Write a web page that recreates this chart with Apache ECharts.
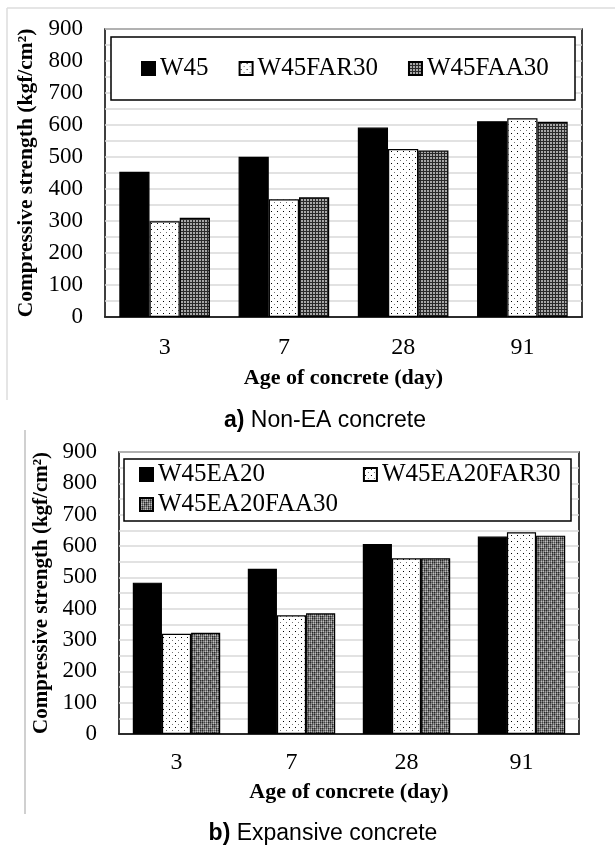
<!DOCTYPE html>
<html><head><meta charset="utf-8">
<script src="https://cdn.jsdelivr.net/npm/echarts@6/dist/echarts.min.js"></script>
<style>html,body{margin:0;padding:0;background:#fff}#c{width:615px;height:846px}</style>
</head><body><div id="c"></div>
<script>
const categories = ['3', '7', '28', '91'];
const topNames = ['W45', 'W45FAR30', 'W45FAA30'];
const W45 = [454, 501, 592, 612];
const W45FAR30 = [299, 368, 525, 621];
const W45FAA30 = [310, 374, 520, 610];
const botNames = ['W45EA20', 'W45EA20FAR30', 'W45EA20FAA30'];
const W45EA20 = [483, 527, 606, 630];
const W45EA20FAR30 = [320, 379, 561, 644];
const W45EA20FAA30 = [323, 385, 561, 633];
const yTicks = [0, 100, 200, 300, 400, 500, 600, 700, 800, 900];

function tile(w, h, draw) {
  const c = document.createElement('canvas'); c.width = w; c.height = h;
  const g = c.getContext('2d'); draw(g, w, h); return c;
}
const dots = tile(6, 6, (g) => {
  g.fillStyle = '#fff'; g.fillRect(0, 0, 6, 6);
  g.fillStyle = '#000'; g.fillRect(1, 1, 1, 1);
  g.fillStyle = '#777'; g.fillRect(4, 4, 1, 1);
});
const checks = tile(3, 3, (g) => {
  g.fillStyle = '#2a2a2a'; g.fillRect(0, 0, 3, 3);
  g.fillStyle = '#a8a8a8'; g.fillRect(1, 1, 2, 2);
});
const plaid = tile(16, 16, (g) => {
  for (let x = 0; x < 16; x++) for (let y = 0; y < 16; y++) {
    let v = 190;
    if (x % 2 === 0) v -= 70;
    if (y % 2 === 0) v -= 50;
    if ((Math.floor(x / 4) + Math.floor(y / 4)) % 2 === 0) v -= 30;
    v = Math.max(20, v);
    g.fillStyle = 'rgb(' + v + ',' + v + ',' + v + ')'; g.fillRect(x, y, 1, 1);
  }
});

const serif = 'Liberation Serif';
const sans = 'Liberation Sans';

function xAxis(gi, gap, nameGap) {
  return {
    type: 'category', gridIndex: gi, data: categories,
    axisLine: {lineStyle: {color: '#000', width: 1.5}}, axisTick: {show: false},
    axisLabel: {color: '#000', fontFamily: serif, fontSize: 24, margin: gap},
    name: 'Age of concrete (day)', nameLocation: 'middle', nameGap: nameGap,
    nameTextStyle: {color: '#000', fontFamily: serif, fontSize: 22, fontWeight: 'bold'}
  };
}
function yAxis(gi, nameGap, fs) {
  return {
    type: 'value', gridIndex: gi, min: 0, max: 900, interval: 50,
    axisLine: {show: false}, axisTick: {show: false},
    axisLabel: {color: '#000', fontFamily: serif, fontSize: 23, margin: 22,
      formatter: v => yTicks.indexOf(v) >= 0 ? String(v) : ''},
    splitLine: {lineStyle: {color: '#d9d9d9', width: 1.5}},
    name: 'Compressive strength (kgf/cm²)', nameLocation: 'middle', nameGap: nameGap,
    nameTextStyle: {color: '#000', fontFamily: serif, fontSize: fs, fontWeight: 'bold'}
  };
}
function bar(name, data, color, gi) {
  return {
    type: 'bar', name: name, data: data, xAxisIndex: gi, yAxisIndex: gi,
    barGap: '0%', barCategoryGap: '24%',
    itemStyle: {color: color, borderColor: '#000', borderWidth: 1.2}
  };
}
const legendText = {color: '#000', fontFamily: serif, fontSize: 25};

const chart = echarts.init(document.getElementById('c'), null, {renderer: 'canvas'});
chart.setOption({
  animation: false,
  backgroundColor: '#fff',
  textStyle: {fontFamily: serif},
  title: [
    {text: '{b|a)} Non-EA concrete', left: 320, top: 404, textAlign: 'center',
      textStyle: {fontFamily: sans, fontSize: 23, fontWeight: 'normal', color: '#000',
        rich: {b: {fontFamily: sans, fontSize: 23, fontWeight: 'bold', color: '#000'}}}},
    {text: '{b|b)} Expansive concrete', left: 318, top: 817, textAlign: 'center',
      textStyle: {fontFamily: sans, fontSize: 23, fontWeight: 'normal', color: '#000',
        rich: {b: {fontFamily: sans, fontSize: 23, fontWeight: 'bold', color: '#000'}}}}
  ],
  grid: [
    {left: 105, top: 29, width: 477, height: 288, show: true, borderColor: '#000', borderWidth: 1.5, backgroundColor: '#fff'},
    {left: 119, top: 452, width: 460, height: 282, show: true, borderColor: '#000', borderWidth: 1.5, backgroundColor: '#fff'}
  ],
  xAxis: [xAxis(0, 19, 50), xAxis(1, 17, 47)],
  yAxis: [yAxis(0, 55, 21.5), yAxis(1, 51, 21)],
  legend: [
    {data: topNames, left: 141, top: 56, itemWidth: 13, itemHeight: 13, itemGap: 30, padding: 0,
      icon: 'rect', textStyle: legendText, selectedMode: false},
    {data: [botNames[0], botNames[1]], left: 139, top: 462, itemWidth: 13, itemHeight: 13, itemGap: 98, padding: 0,
      icon: 'rect', textStyle: legendText, selectedMode: false},
    {data: [botNames[2]], left: 139, top: 492, itemWidth: 13, itemHeight: 13, padding: 0,
      icon: 'rect', textStyle: legendText, selectedMode: false}
  ],
  graphic: [
    {type: 'line', z: 0, shape: {x1: 7, y1: 8, x2: 615, y2: 8}, style: {stroke: '#dcdcdc', lineWidth: 1.5}},
    {type: 'line', z: 0, shape: {x1: 7, y1: 8, x2: 7, y2: 400}, style: {stroke: '#dcdcdc', lineWidth: 1.5}},
    {type: 'line', z: 0, shape: {x1: 25, y1: 430, x2: 25, y2: 814}, style: {stroke: '#d0d0d0', lineWidth: 2}},
    {type: 'rect', z: 3, shape: {x: 111, y: 37, width: 464, height: 63}, style: {fill: '#fff', stroke: '#000', lineWidth: 1.5}},
    {type: 'rect', z: 3, shape: {x: 124, y: 459, width: 447, height: 62}, style: {fill: '#fff', stroke: '#000', lineWidth: 1.5}}
  ],
  series: [
    bar(topNames[0], W45, '#000', 0),
    bar(topNames[1], W45FAR30, {image: dots, repeat: 'repeat'}, 0),
    bar(topNames[2], W45FAA30, {image: checks, repeat: 'repeat'}, 0),
    bar(botNames[0], W45EA20, '#000', 1),
    bar(botNames[1], W45EA20FAR30, {image: dots, repeat: 'repeat'}, 1),
    bar(botNames[2], W45EA20FAA30, {image: plaid, repeat: 'repeat'}, 1)
  ]
});
</script></body></html>
